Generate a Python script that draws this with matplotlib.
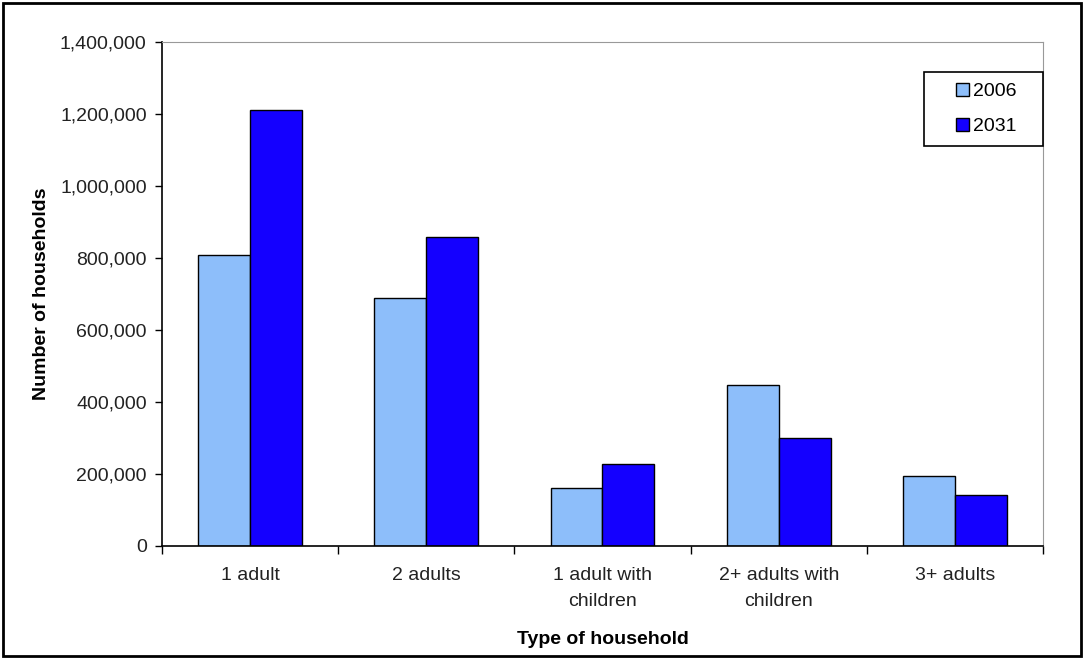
import numpy as np
import matplotlib.pyplot as plt
from matplotlib.patches import Rectangle
from matplotlib.container import BarContainer
from matplotlib.legend_handler import HandlerPatch, update_from_first_child
from matplotlib.ticker import FuncFormatter

plt.rcParams['font.family'] = ['Liberation Sans', 'DejaVu Sans']

categories = ['1 adult', '2 adults', '1 adult with\nchildren', '2+ adults with\nchildren', '3+ adults']
values_2006 = [808000, 689000, 161000, 447000, 194000]
values_2031 = [1211000, 858000, 228000, 300000, 142000]

FS = 14


def right_square(legend, orig_handle, xdescent, ydescent, width, height, fontsize):
    # small square pushed to the right end of the handle box
    return Rectangle((-xdescent + width - height, -ydescent), height, height)


fig = plt.figure(figsize=(10.84, 6.59), dpi=100)
ax = fig.add_axes([0.1494, 0.1715, 0.8128, 0.7648])

x = np.arange(len(categories))
w = 0.295
ax.bar(x - w / 2, values_2006, w, color='#8DBEFA', edgecolor='black', linewidth=1, label='2006   ')
ax.bar(x + w / 2, values_2031, w, color='#1400FF', edgecolor='black', linewidth=1, label='2031   ')

ax.set_xlim(-0.5, len(categories) - 0.5)
ax.set_ylim(0, 1400000)
ax.set_yticks(np.arange(0, 1400001, 200000))
ax.yaxis.set_major_formatter(FuncFormatter(lambda v, p: f'{int(v):,}'))

# category labels between tick marks
ax.set_xticks(np.arange(-0.5, len(categories), 1))
ax.set_xticklabels([])
ax.set_xticks(x, minor=True)
ax.set_xticklabels(categories, minor=True, fontsize=FS, color='#222222', linespacing=1.7)
ax.tick_params(axis='x', which='minor', length=0, pad=15)
ax.tick_params(axis='x', which='major', length=6, width=1)
ax.tick_params(axis='y', length=5, width=1, labelsize=FS, labelcolor='#222222', pad=6)

ax.spines['top'].set_color('#999999')
ax.spines['right'].set_color('#999999')
ax.spines['left'].set_linewidth(1.2)
ax.spines['bottom'].set_linewidth(1.2)

ax.set_ylabel('Number of households', fontsize=FS, fontweight='bold', labelpad=7)
ax.set_xlabel('Type of household', fontsize=FS, fontweight='bold', labelpad=15)

square_handler = HandlerPatch(patch_func=right_square, update_func=update_from_first_child)
leg = ax.legend(loc='upper right', bbox_to_anchor=(1.0, 0.94), fontsize=FS,
                fancybox=False, edgecolor='black', framealpha=1,
                handlelength=1.75, handleheight=0.65, handletextpad=0.2,
                labelspacing=0.9, borderpad=0.55, borderaxespad=0,
                handler_map={BarContainer: square_handler})
leg.get_frame().set_linewidth(1.2)

fig.patches.append(Rectangle((0.003, 0.004), 0.994, 0.992, transform=fig.transFigure,
                             fill=False, edgecolor='black', linewidth=2))

fig.savefig('out.png', dpi=100)
